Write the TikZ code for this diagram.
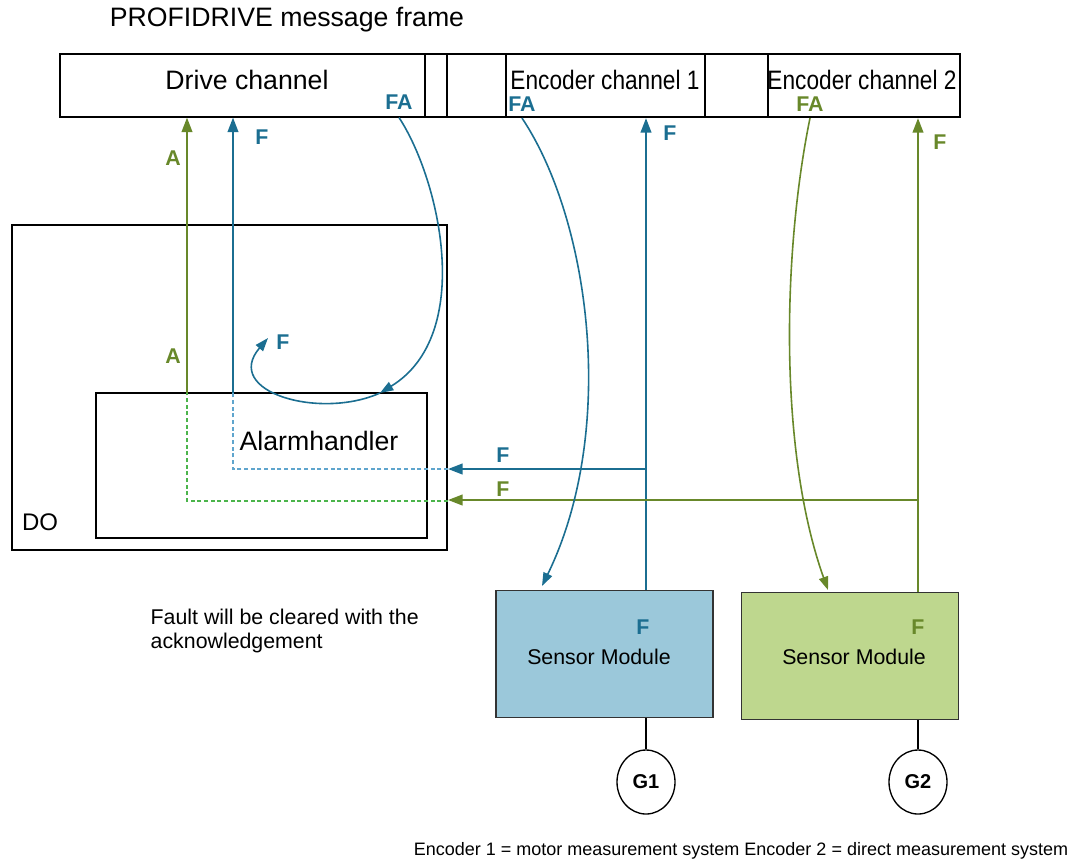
\documentclass[tikz,border=0pt]{standalone}
\usepackage{fontspec}
\setmainfont{Liberation Sans}
\newfontfamily\narrowsf[FakeStretch=0.85]{Liberation Sans}
\usetikzlibrary{arrows.meta,shapes.geometric}

\definecolor{sigblue}{RGB}{27,110,145}
\definecolor{siggreen}{RGB}{104,136,42}
\definecolor{dashblue}{RGB}{95,165,205}
\definecolor{dashgreen}{RGB}{75,180,75}
\definecolor{smblue}{RGB}{155,200,218}
\definecolor{smgreen}{RGB}{190,215,142}

\tikzset{
  box/.style={draw=black, line width=0.8pt, inner sep=0pt},
  heavybox/.style={box, line width=1.6pt},
  module/.style={draw=black!80, line width=1.2pt, inner sep=0pt,
    minimum width=163pt, minimum height=95pt},
  enc/.style={draw=black, line width=1pt, ellipse, inner sep=0pt,
    minimum width=43.5pt, minimum height=48pt,
    font=\fontsize{15}{15}\selectfont\bfseries},
  sig/.style={line width=1.6pt, -{Triangle[length=11pt,width=8pt]}},
  sigcurve/.style={line width=1.2pt, -{Triangle[length=10pt,width=7pt]}},
  link/.style={line width=1.6pt},
  dashlink/.style={line width=1pt, dash pattern=on 3pt off 2pt},
  tag/.style={font=\fontsize{16}{16}\selectfont\bfseries},
}

\begin{document}
\begin{tikzpicture}[x=0.75pt,y=-0.75pt]
  \useasboundingbox (0,0) rectangle (1088,865);

  % Message frame with its channels
  \node[font=\fontsize{20}{24}\selectfont] (title) at (287,20) {PROFIDRIVE message frame};
  \draw[line width=0.8pt] (60,54) rectangle (960,117);
  \node[box, minimum width=273.75pt, minimum height=47.25pt] (drive) at (242.5,85.5) {};
  \node[heavybox, minimum width=16.5pt, minimum height=47.25pt] (spare) at (436,85.5) {};
  \node[heavybox, minimum width=149.25pt, minimum height=47.25pt] (enc1) at (605.5,85.5) {};
  \node[heavybox, minimum width=144pt, minimum height=47.25pt] (enc2) at (864,85.5) {};
  \node[font=\fontsize{20}{24}\selectfont] (drivetxt) at (247,80) {Drive channel};
  \node[font=\fontsize{20}{24}\narrowsf] (enc1txt) at (605,80) {Encoder channel 1};
  \node[font=\fontsize{20}{24}\narrowsf] (enc2txt) at (862,80) {Encoder channel 2};
  \node[tag, sigblue] (fadrive) at (399,102) {FA};
  \node[tag, sigblue] (faenc1) at (522,104) {FA};
  \node[tag, siggreen] (faenc2) at (810,104) {FA};

  % Drive object and alarm handler
  \node[box, minimum width=326.25pt, minimum height=243.75pt] (do) at (229.5,387.5) {};
  \node[font=\fontsize{18}{18}\selectfont] (dotxt) at (40,522) {DO};
  \node[box, minimum width=248.25pt, minimum height=108.75pt] (alarm) at (261.5,465.5) {};
  \node[font=\fontsize{20}{24}\selectfont] (alarmtxt) at (319,441) {Alarmhandler};

  % Sensor modules and encoders
  \node[module, fill=smblue] (sm1) at (604.5,654) {};
  \node[module, fill=smgreen] (sm2) at (850,656) {};
  \node[font=\fontsize{16}{16}\selectfont] (sm1txt) at (599,657) {Sensor Module};
  \node[font=\fontsize{16}{16}\selectfont] (sm2txt) at (854,657) {Sensor Module};
  \node[tag, sigblue] (sm1f) at (643,627) {F};
  \node[tag, siggreen] (sm2f) at (918,627) {F};
  \node[enc] (g1) at (646,782) {G1};
  \node[enc] (g2) at (918,782) {G2};
  \draw[line width=1.6pt] (g1.north |- sm1.south) -- (g1.north);
  \draw[line width=1.6pt] (g2.north |- sm2.south) -- (g2.north);

  % Fault paths from the encoders
  \coordinate (f1tap) at (646,469);
  \coordinate (f2tap) at (918,500);
  \coordinate (f1in) at (448,469);
  \coordinate (f2in) at (448,500);
  \coordinate (f1bend) at (233,469);
  \coordinate (f2bend) at (187,501);
  \coordinate (f1top) at (233,393);
  \coordinate (f2top) at (187,393);
  \draw[sig, sigblue] (g1.north |- sm1.north) -- (g1.north |- enc1.south);
  \draw[sig, siggreen] (g2.north |- sm2.north) -- (g2.north |- enc2.south);
  \draw[sig, sigblue] (f1tap) -- (f1in);
  \draw[sig, siggreen] (f2tap) -- (f2in);
  \draw[dashlink, dashblue] (f1in) -- (f1bend) -- (f1top);
  \draw[dashlink, dashgreen] (448,501) -- (f2bend) -- (f2top);
  \draw[sig, sigblue] (f1top) -- (f1top |- drive.south);
  \draw[sig, siggreen] (f2top) -- (f2top |- drive.south);
  \node[tag, sigblue] (ftap1) at (503,455) {F};
  \node[tag, siggreen] (ftap2) at (503,489) {F};
  \node[tag, sigblue] (fenc1) at (670,133) {F};
  \node[tag, siggreen] (fenc2) at (940,142) {F};
  \node[tag, sigblue] (fdrive) at (262,137) {F};
  \node[tag, siggreen] (adrive) at (173,158) {A};
  \node[tag, siggreen] (ado) at (173,356) {A};

  % Acknowledgements back down
  \coordinate (ackin) at (380,393);
  \coordinate (ackout) at (268,338);
  \draw[sigcurve, sigblue] (fadrive.south |- drive.south) .. controls (440,180) and (475,335) .. (ackin);
  \draw[sigcurve, sigblue] (ackin) .. controls (320,420) and (222,392) .. (ackout);
  \node[tag, sigblue] (fack) at (283,342) {F};
  \draw[sigcurve, sigblue] (faenc1.south |- enc1.south) .. controls (590,220) and (618,430) .. (542,586);
  \draw[sigcurve, siggreen] (faenc2.south |- enc2.south) .. controls (783,250) and (778,450) .. (828,590);

  % Notes
  \node[font=\fontsize{16}{18}\selectfont, align=left, anchor=west] (note) at (146,631)
    {Fault will be cleared with the\\acknowledgement};
  \node[font=\fontsize{13.5}{16}\selectfont] (caption) at (741,851)
    {Encoder 1 = motor measurement system Encoder 2 = direct measurement system};
\end{tikzpicture}
\end{document}
